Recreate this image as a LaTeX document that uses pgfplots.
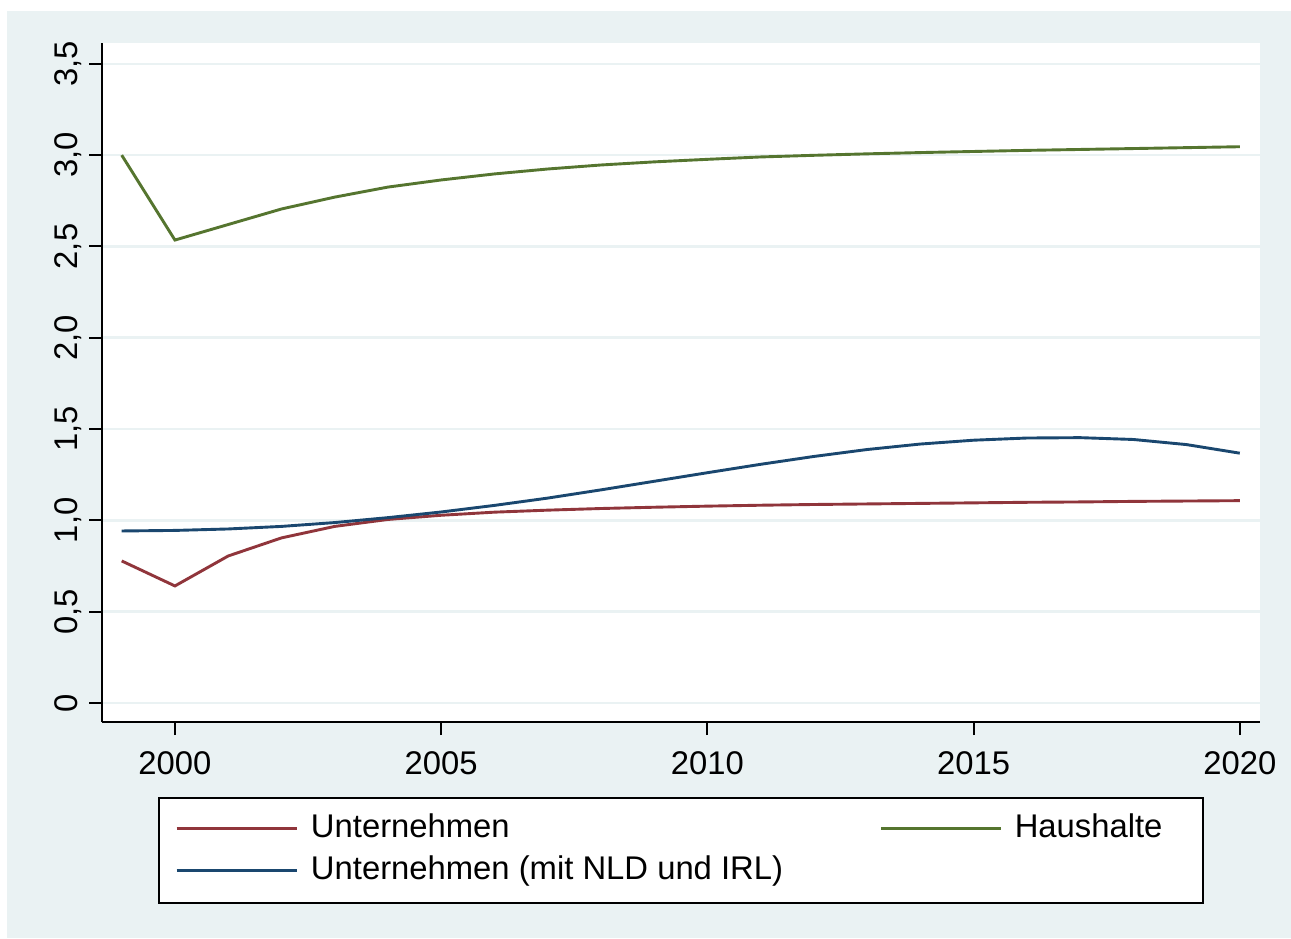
\documentclass[border=0pt]{standalone}
\usepackage{pgfplots}
\pgfplotsset{compat=1.18}
\usepackage{fontspec}
\setmainfont{Liberation Sans}
\definecolor{bgc}{RGB}{234,242,243}
\definecolor{cred}{RGB}{144,53,59}
\definecolor{cgreen}{RGB}{85,117,47}
\definecolor{cblue}{RGB}{26,71,111}
\begin{document}
\fontsize{16.4}{19}\selectfont
\begin{tikzpicture}
\fill[white] (-51pt,-108pt) rectangle (594.5pt,361pt);
\fill[bgc] (-47.5pt,-108pt) rectangle (594.5pt,355.5pt);
\begin{axis}[
  at={(0pt,0pt)}, anchor=south west,
  scale only axis, width=579pt, height=339.5pt,
  xmin=1998.63, xmax=2020.38, ymin=-0.104, ymax=3.614,
  axis background/.style={fill=white},
  axis x line*=bottom, axis y line*=left,
  axis line style={-, black, line width=1pt},
  tick align=outside, major tick length=6.5pt,
  tick style={black, line width=1pt},
  xtick={2000,2005,2010,2015,2020},
  xticklabels={2000,2005,2010,2015,2020},
  ytick={0,0.5,1,1.5,2,2.5,3,3.5},
  yticklabels={0,{0,5},{1,0},{1,5},{2,0},{2,5},{3,0},{3,5}},
  minor tick num=0,
  ymajorgrids, major grid style={color=bgc, line width=1.3pt},
  xticklabel style={anchor=north, inner sep=0pt, font=\fontsize{16.4}{19}\selectfont},
  yticklabel style={rotate=90, anchor=base, inner sep=0pt, font=\fontsize{16.4}{19}\selectfont},
  xticklabel shift=8pt,
  yticklabel shift=6pt,
  legend columns=2,
  legend image code/.code={\draw[#1, line width=1.4pt] (0pt,4.5pt) -- (60pt,4.5pt);},
  legend style={at={(0.5,-0.1105)}, anchor=north, draw=black, line width=1pt,
    fill=white, inner xsep=8pt, inner ysep=8.25pt, row sep=6pt, column sep=0pt,
    nodes={inner sep=0pt, text height=11.5pt, text depth=3.5pt, anchor=base west},
    font=\fontsize{16.4}{19}\selectfont},
  every axis plot/.append style={line width=1.45pt},
]
\addplot[cred] coordinates {
(1999,0.778) (2000,0.641) (2001,0.805) (2002,0.904) (2003,0.967) (2004,1.005)
(2005,1.028) (2006,1.045) (2007,1.056) (2008,1.065) (2009,1.072) (2010,1.078)
(2011,1.083) (2012,1.087) (2013,1.090) (2014,1.093) (2015,1.096) (2016,1.099)
(2017,1.101) (2018,1.104) (2019,1.106) (2020,1.108)};
\addlegendentry{\hspace*{6.5pt}\makebox[284.5pt][l]{Unternehmen}}
\addplot[cgreen] coordinates {
(1999,3.000) (2000,2.535) (2001,2.620) (2002,2.705) (2003,2.770) (2004,2.825)
(2005,2.864) (2006,2.897) (2007,2.924) (2008,2.946) (2009,2.963) (2010,2.977)
(2011,2.990) (2012,2.999) (2013,3.007) (2014,3.014) (2015,3.020) (2016,3.026)
(2017,3.031) (2018,3.036) (2019,3.041) (2020,3.046)};
\addlegendentry{\hspace*{6pt}\makebox[86pt][l]{Haushalte}}
\addplot[cblue] coordinates {
(1999,0.942) (2000,0.945) (2001,0.953) (2002,0.967) (2003,0.988) (2004,1.015)
(2005,1.046) (2006,1.082) (2007,1.122) (2008,1.167) (2009,1.214) (2010,1.261)
(2011,1.307) (2012,1.350) (2013,1.388) (2014,1.418) (2015,1.439) (2016,1.451)
(2017,1.453) (2018,1.443) (2019,1.415) (2020,1.368)};
\addlegendentry{\hspace*{6.5pt}\makebox[284.5pt][l]{Unternehmen (mit NLD und IRL)}}
\end{axis}
\end{tikzpicture}
\end{document}
